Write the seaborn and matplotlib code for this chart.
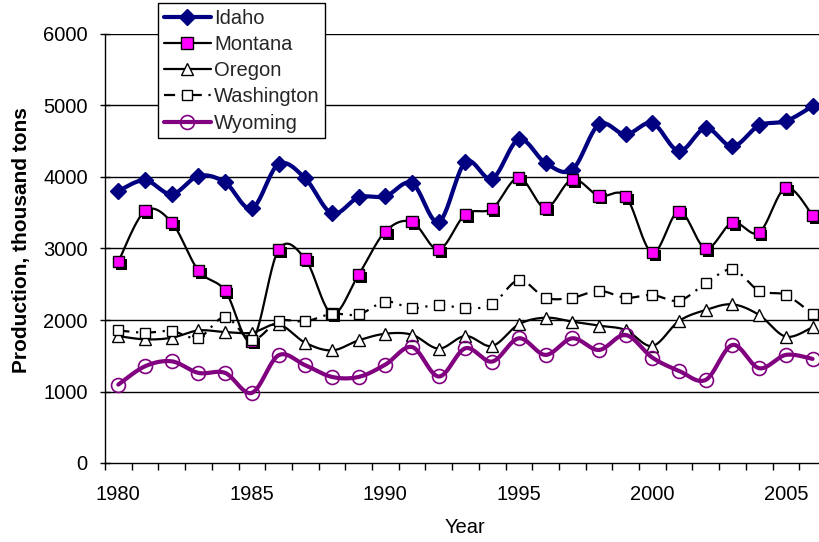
import numpy as np
import pandas as pd
import matplotlib
matplotlib.use("Agg")
import matplotlib.pyplot as plt
import matplotlib.patheffects as pe
from matplotlib.lines import Line2D
import seaborn as sns

years = list(range(1980, 2007))
idaho = [3805, 3955, 3760, 4015, 3925, 3560, 4180, 3980, 3490, 3715, 3730, 3915, 3372,
         4209, 3977, 4526, 4195, 4102, 4735, 4595, 4753, 4363, 4684, 4428, 4721, 4781, 4991]
montana = [2816, 3526, 3364, 2690, 2411, 1706, 2983, 2853, 2086, 2634, 3238, 3373, 2986,
           3479, 3558, 3991, 3567, 3967, 3735, 3730, 2940, 3521, 3000, 3363, 3223, 3851, 3465]
oregon = [1775, 1729, 1752, 1854, 1831, 1822, 1938, 1682, 1575, 1715, 1808, 1794, 1600,
          1777, 1637, 1940, 2033, 1977, 1921, 1860, 1637, 1986, 2140, 2219, 2070, 1767, 1898]
washington = [1854, 1822, 1845, 1752, 2040, 1720, 1984, 1980, 2086, 2077, 2258, 2165, 2215,
              2163, 2219, 2558, 2312, 2312, 2409, 2312, 2349, 2270, 2512, 2707, 2409, 2349, 2084]
wyoming = [1097, 1353, 1422, 1260, 1260, 981, 1506, 1367, 1204, 1204, 1376, 1622, 1210,
           1605, 1419, 1744, 1512, 1744, 1581, 1791, 1474, 1288, 1163, 1651, 1326, 1512, 1456]
states = ["Idaho", "Montana", "Oregon", "Washington", "Wyoming"]
yticks = [0, 1000, 2000, 3000, 4000, 5000, 6000]
xticklabels = [1980, 1985, 1990, 1995, 2000, 2005]


def smooth(x, y, n=24):
    """Excel-like smoothed line (Bezier with Catmull-Rom control points), for drawing only."""
    x = np.asarray(x, float)
    y = np.asarray(y, float)
    xs, ys = [], []
    t = np.linspace(0, 1, n)
    for i in range(len(x) - 1):
        p0 = i - 1 if i > 0 else i
        p3 = i + 2 if i + 2 < len(x) else i + 1
        c1x = x[i] + (x[i + 1] - x[p0]) / 6
        c1y = y[i] + (y[i + 1] - y[p0]) / 6
        c2x = x[i + 1] - (x[p3] - x[i]) / 6
        c2y = y[i + 1] - (y[p3] - y[i]) / 6
        bx = (1 - t) ** 3 * x[i] + 3 * (1 - t) ** 2 * t * c1x + 3 * (1 - t) * t ** 2 * c2x + t ** 3 * x[i + 1]
        by = (1 - t) ** 3 * y[i] + 3 * (1 - t) ** 2 * t * c1y + 3 * (1 - t) * t ** 2 * c2y + t ** 3 * y[i + 1]
        if i > 0:
            bx, by = bx[1:], by[1:]
        xs.append(bx)
        ys.append(by)
    return np.concatenate(xs), np.concatenate(ys)


sns.set_theme(style="white")
plt.rcParams["font.family"] = ["Liberation Sans", "DejaVu Sans"]

fig = plt.figure(figsize=(8.2, 5.42), dpi=100)
W, H = 820, 542
x_left, x_per_year = 105, 26.7
ax = fig.add_axes([x_left / W, (H - 463) / H, 27 * x_per_year / W, (463 - 34) / H])

styles = {
    "Idaho": dict(color="#000080", lw=3.0, ls="-", marker="D", ms=8.5, mfc="#000080", mec="#000080", mew=1),
    "Montana": dict(color="black", lw=1.6, ls="-", marker="s", ms=8, mfc="#FF00FF", mec="black", mew=1),
    "Oregon": dict(color="black", lw=1.6, ls="-", marker="^", ms=8, mfc="white", mec="black", mew=1),
    "Washington": dict(color="black", lw=1.6, ls=(0, (5, 3, 1, 3)), marker="s", ms=7.5, mfc="white", mec="black", mew=1),
    "Wyoming": dict(color="#800080", lw=3.0, ls="-", marker="o", ms=10, mfc="none", mec="#800080", mew=1.2),
}
series = dict(zip(states, [idaho, montana, oregon, washington, wyoming]))

z = 3
for name in states:
    st = styles[name]
    sx, sy = smooth(years, series[name])
    sns.lineplot(x=sx, y=sy, ax=ax, color=st["color"], lw=st["lw"], linestyle=st["ls"],
                 sort=False, estimator=None, zorder=z)
    mk = ax.plot(years, series[name], linestyle="none", marker=st["marker"], markersize=st["ms"],
                 markerfacecolor=st["mfc"], markeredgecolor=st["mec"], markeredgewidth=st["mew"],
                 zorder=z + 0.5)[0]
    if name == "Montana":
        mk.set_path_effects([pe.SimplePatchShadow(offset=(2, -2), shadow_rgbFace="black", alpha=1.0),
                             pe.Normal()])
    z += 1

ax.set_xlim(1979.5, 2006.5)
ax.set_ylim(0, 6000)
ax.set_yticks(yticks)
ax.set_yticklabels([str(v) for v in yticks])
ax.set_xticks(xticklabels)
ax.set_xticklabels([str(v) for v in xticklabels])
ax.set_xticks(np.arange(1979.5, 2007, 1.0), minor=True)

ax.grid(False)
for v in yticks[1:]:
    ax.axhline(v, color="black", lw=1.0, zorder=1)

for s in ["top", "right"]:
    ax.spines[s].set_visible(False)
for s in ["left", "bottom"]:
    ax.spines[s].set_color("black")
    ax.spines[s].set_linewidth(1.0)

ax.tick_params(axis="y", which="major", direction="inout", length=7, width=1, color="black",
               left=True, labelsize=14.5, pad=9, labelcolor="black")
ax.tick_params(axis="x", which="major", length=0, labelsize=14.5, pad=16, labelcolor="black")
ax.tick_params(axis="x", which="minor", direction="out", length=5, width=1, color="black", bottom=True)

ax.set_xlabel("Year", fontsize=14.5, color="black", labelpad=10)
ax.set_ylabel("Production, thousand tons", fontsize=15, fontweight="bold", color="black")
ax.yaxis.set_label_coords(31 / W, (H - 240) / H, transform=fig.transFigure)

handles = []
for name in states:
    st = styles[name]
    h = Line2D([0], [0], color=st["color"], lw=st["lw"], linestyle=st["ls"], marker=st["marker"],
               markersize=st["ms"], markerfacecolor=st["mfc"], markeredgecolor=st["mec"],
               markeredgewidth=st["mew"])
    handles.append(h)
leg = fig.legend(handles, states, loc="upper left", bbox_to_anchor=(158 / W, 1 - 3 / H),
                 fontsize=14.5, frameon=True, fancybox=False, framealpha=1, edgecolor="black",
                 handlelength=2.35, handletextpad=0.15, labelspacing=0.36, borderpad=0.28,
                 borderaxespad=0.0)
leg.get_frame().set_linewidth(1.0)
leg.set_zorder(20)

fig.savefig("out.png", dpi=100)
